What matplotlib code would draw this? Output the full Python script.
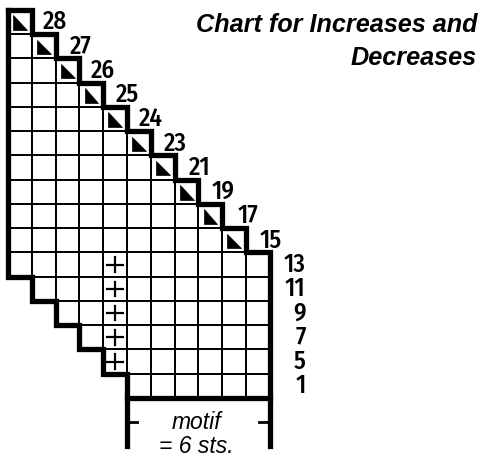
import matplotlib.pyplot as plt
from matplotlib.patches import Rectangle, Polygon

# chart rows, top to bottom
row_labels = [28, 27, 26, 25, 24, 23, 21, 19, 17, 15, 13, 11, 9, 7, 5, 1]
row_start = [0, 0, 0, 0, 0, 0, 0, 0, 0, 0, 0, 1, 2, 3, 4, 5]
row_end = [1, 2, 3, 4, 5, 6, 7, 8, 9, 10, 11, 11, 11, 11, 11, 11]
# decrease symbol rows (symbol in last stitch of row)
dec_rows = [0, 1, 2, 3, 4, 5, 6, 7, 8, 9]
# increase symbol rows / column
inc_rows = [10, 11, 12, 13, 14]
inc_col = 4
motif_start = 5
motif_end = 11

title1 = "Chart for Increases and"
title2 = "Decreases"

cw = 23.8   # px per stitch
ch = 24.25  # px per row
x0, y0 = 8, 10

narrow = ['Fira Sans Condensed', 'Roboto Condensed', 'DejaVu Sans']
sans = ['Liberation Sans', 'DejaVu Sans']

fig = plt.figure(figsize=(4.83, 4.62), dpi=100)
ax = fig.add_axes([0, 0, 1, 1])
ax.set_xlim(-x0 / cw, (483 - x0) / cw)
ax.set_ylim((462 - y0) / ch, -y0 / ch)
ax.axis('off')

nrows = len(row_labels)

# thin grid
for r in range(nrows):
    for c in range(row_start[r], row_end[r]):
        ax.add_patch(Rectangle((c, r), 1, 1, facecolor='white',
                               edgecolor='black', lw=1.4))

# decrease symbols
for r in dec_rows:
    c = row_end[r] - 1
    ax.add_patch(Polygon([(c + 0.22, r + 0.22), (c + 0.22, r + 0.82),
                          (c + 0.8, r + 0.82)], closed=True,
                         facecolor='black', edgecolor='black', lw=0.5))

# increase symbols
for r in inc_rows:
    ax.plot([inc_col + 0.18, inc_col + 0.82], [r + 0.5, r + 0.5], color='black', lw=1.6)
    ax.plot([inc_col + 0.5, inc_col + 0.5], [r + 0.2, r + 0.8], color='black', lw=1.6)

# thick outline: top/right staircase
xs, ys = [0], [0]
for r in range(nrows):
    e = row_end[r]
    if xs[-1] != e:
        xs.append(e)
        ys.append(r)
    xs.append(e)
    ys.append(r + 1)
ys[-1] = nrows + 2
ax.plot(xs, ys, color='black', lw=3.8, solid_joinstyle='miter', solid_capstyle='projecting')

# left staircase
xs, ys = [0], [0]
for r in range(nrows):
    s = row_start[r]
    if xs[-1] != s:
        xs.append(s)
        ys.append(r)
    xs.append(s)
    ys.append(r + 1)
ys[-1] = nrows + 2
ax.plot(xs, ys, color='black', lw=3.8, solid_joinstyle='miter', solid_capstyle='projecting')

# bottom line
ax.plot([motif_start, motif_end], [nrows, nrows], color='black', lw=3.8,
        solid_capstyle='projecting')

# motif bracket ticks
ax.plot([motif_start, motif_start + 0.4], [nrows + 1.0, nrows + 1.0], color='black', lw=2)
ax.plot([motif_end - 0.45, motif_end], [nrows + 1.0, nrows + 1.0], color='black', lw=2)
mid = (motif_start + motif_end) / 2
ax.text(mid - 0.1, nrows + 1.0, "motif", ha='center', va='center', style='italic',
        fontsize=16.5, family=sans)
ax.text(mid - 0.1, nrows + 2.0, "= 6 sts.", ha='center', va='center', style='italic',
        fontsize=16.5, family=sans)

# row numbers
for r in range(nrows):
    ax.text(row_end[r] + 1.5, r + 0.5, str(row_labels[r]), ha='right', va='center',
            fontsize=18, fontweight='medium', family=narrow)

# title
ax.text((477 - x0) / cw, (25 - y0) / ch, title1, ha='right', va='center',
        fontsize=18.2, fontweight='bold', style='italic', family=sans)
ax.text((477 - x0) / cw, (58 - y0) / ch, title2, ha='right', va='center',
        fontsize=18.2, fontweight='bold', style='italic', family=sans)

fig.savefig('out.png', dpi=100, facecolor='white')
